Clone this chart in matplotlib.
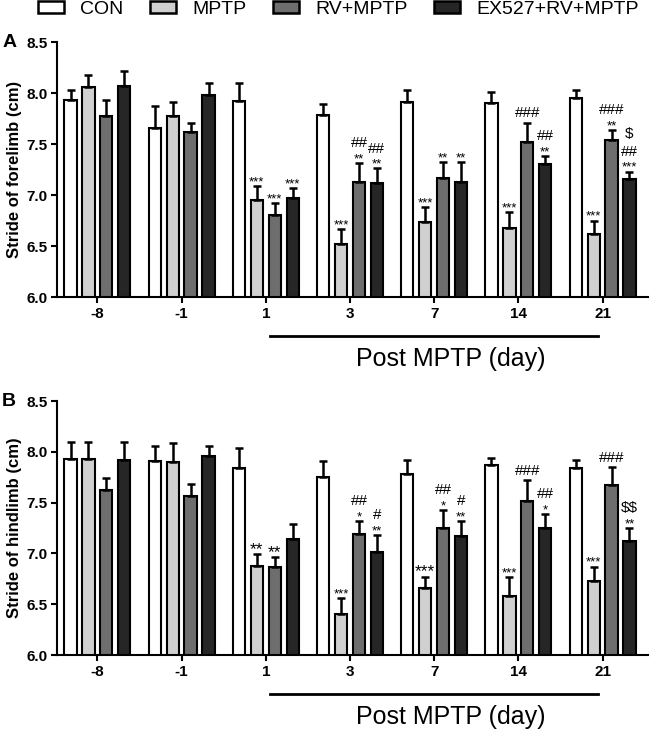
import numpy as np
import matplotlib
matplotlib.use("Agg")
import matplotlib.pyplot as plt
from matplotlib.patches import Patch
import matplotlib.transforms as mtransforms

plt.rcParams['font.family'] = ['Liberation Sans', 'DejaVu Sans']

days = ['-8', '-1', '1', '3', '7', '14', '21']
groups = ['CON', 'MPTP', 'RV+MPTP', 'EX527+RV+MPTP']
colors = ['#ffffff', '#d0d0d0', '#6e6e6e', '#262626']

# panel A - forelimb stride (mean, upper SEM)
fore_con = [7.93, 7.66, 7.92, 7.78, 7.91, 7.90, 7.95]
fore_con_err = [0.10, 0.21, 0.18, 0.11, 0.12, 0.11, 0.08]
fore_mptp = [8.06, 7.77, 6.95, 6.52, 6.74, 6.68, 6.62]
fore_mptp_err = [0.12, 0.14, 0.14, 0.15, 0.14, 0.15, 0.13]
fore_rv = [7.77, 7.62, 6.80, 7.13, 7.17, 7.52, 7.54]
fore_rv_err = [0.16, 0.09, 0.12, 0.18, 0.15, 0.19, 0.10]
fore_ex = [8.07, 7.98, 6.97, 7.12, 7.13, 7.30, 7.16]
fore_ex_err = [0.15, 0.12, 0.10, 0.14, 0.19, 0.08, 0.07]

# panel B - hindlimb stride
hind_con = [7.93, 7.91, 7.84, 7.75, 7.78, 7.87, 7.84]
hind_con_err = [0.17, 0.15, 0.20, 0.16, 0.14, 0.07, 0.08]
hind_mptp = [7.93, 7.90, 6.88, 6.40, 6.66, 6.58, 6.73]
hind_mptp_err = [0.17, 0.19, 0.11, 0.16, 0.11, 0.19, 0.14]
hind_rv = [7.62, 7.57, 6.87, 7.19, 7.25, 7.52, 7.67]
hind_rv_err = [0.12, 0.11, 0.09, 0.13, 0.18, 0.20, 0.18]
hind_ex = [7.92, 7.96, 7.14, 7.01, 7.17, 7.25, 7.12]
hind_ex_err = [0.18, 0.10, 0.15, 0.17, 0.15, 0.14, 0.13]

# significance marks, bottom to top, keyed by (day index, group index)
fore_marks = {
    (2, 1): ['***'], (2, 2): ['***'], (2, 3): ['***'],
    (3, 1): ['***'], (3, 2): ['**', '##'], (3, 3): ['**', '##'],
    (4, 1): ['***'], (4, 2): ['**'], (4, 3): ['**'],
    (5, 1): ['***'], (5, 2): ['###'], (5, 3): ['**', '##'],
    (6, 1): ['***'], (6, 2): ['**', '###'], (6, 3): ['***', '##', '$'],
}
hind_marks = {
    (2, 1): ['**'], (2, 2): ['**'],
    (3, 1): ['***'], (3, 2): ['*', '##'], (3, 3): ['**', '#'],
    (4, 1): ['***'], (4, 2): ['*', '##'], (4, 3): ['**', '#'],
    (5, 1): ['***'], (5, 2): ['###'], (5, 3): ['*', '##'],
    (6, 1): ['***'], (6, 2): ['###'], (6, 3): ['**', '$$'],
}
# star labels printed in the larger type
big_stars = [('B', 2, 1), ('B', 2, 2), ('B', 4, 1)]

fig = plt.figure(figsize=(6.5, 7.33), dpi=100)
axA = fig.add_axes([0.0877, 0.5948, 0.9093, 0.3479])
axB = fig.add_axes([0.0877, 0.1064, 0.9093, 0.3465])

width = 0.145
step = 0.213
x = np.arange(len(days))


def draw_panel(ax, means, errs, marks, ylabel, letter):
    for g in range(4):
        pos = x + (g - 1.5) * step
        ax.bar(pos, means[g], width=width, bottom=0, color=colors[g],
               edgecolor='black', linewidth=1.5, zorder=2)
        ax.errorbar(pos, means[g], yerr=[np.zeros(len(days)), errs[g]],
                    fmt='none', ecolor='black', elinewidth=1.8,
                    capsize=2.6, capthick=1.8, zorder=3)
    for (d, g), labels in marks.items():
        pos = x[d] + (g - 1.5) * step
        top = means[g][d] + errs[g][d]
        off = 0.5
        for i, lab in enumerate(labels):
            if '*' in lab:
                big = (letter, d, g) in big_stars
                ax.annotate(lab, (pos, top), xytext=(0, off),
                            textcoords='offset points', ha='center',
                            va='baseline', fontsize=12.5 if big else 9.5,
                            zorder=4)
                off += 11
            else:
                if i == 0:
                    off = 4
                ax.annotate(lab, (pos, top), xytext=(0, off),
                            textcoords='offset points', ha='center',
                            va='baseline', fontsize=11, zorder=4,
                            parse_math=False)
                off += 13
    ax.set_xlim(-0.48, 6.54)
    ax.set_ylim(6.0, 8.5)
    ax.set_yticks([6.0, 6.5, 7.0, 7.5, 8.0, 8.5])
    ax.set_yticklabels(['6.0', '6.5', '7.0', '7.5', '8.0', '8.5'])
    ax.set_xticks(x)
    ax.set_xticklabels(days)
    for lab in ax.get_xticklabels() + ax.get_yticklabels():
        lab.set_fontweight('bold')
        lab.set_fontsize(11)
    ax.tick_params(direction='out', length=4, width=1.5, pad=3)
    ax.spines['top'].set_visible(False)
    ax.spines['right'].set_visible(False)
    ax.spines['left'].set_linewidth(1.5)
    ax.spines['bottom'].set_linewidth(1.5)
    ax.set_ylabel(ylabel, fontsize=12, fontweight='bold', labelpad=3)
    ax.text(-0.093, 1.0, letter, transform=ax.transAxes, fontsize=14,
            fontweight='bold', ha='left', va='center')
    trans = mtransforms.blended_transform_factory(ax.transData, ax.transAxes)
    ax.plot([2.05, 5.95], [-0.153, -0.153], color='black', lw=2,
            transform=trans, clip_on=False)
    ax.text(4.2, -0.245, 'Post MPTP (day)', transform=trans, fontsize=18,
            ha='center', va='center')


draw_panel(axA, [fore_con, fore_mptp, fore_rv, fore_ex],
           [fore_con_err, fore_mptp_err, fore_rv_err, fore_ex_err],
           fore_marks, 'Stride of forelimb (cm)', 'A')
draw_panel(axB, [hind_con, hind_mptp, hind_rv, hind_ex],
           [hind_con_err, hind_mptp_err, hind_rv_err, hind_ex_err],
           hind_marks, 'Stride of hindlimb (cm)', 'B')

handles = [Patch(facecolor=c, edgecolor='black', linewidth=1.8) for c in colors]
fig.legend(handles, groups, loc='upper left', bbox_to_anchor=(0.058, 0.999),
           ncol=4, frameon=False, fontsize=14, handlelength=1.34,
           handleheight=0.55, handletextpad=0.85, columnspacing=1.35,
           borderpad=0, borderaxespad=0)

fig.savefig('out.png', dpi=100)
